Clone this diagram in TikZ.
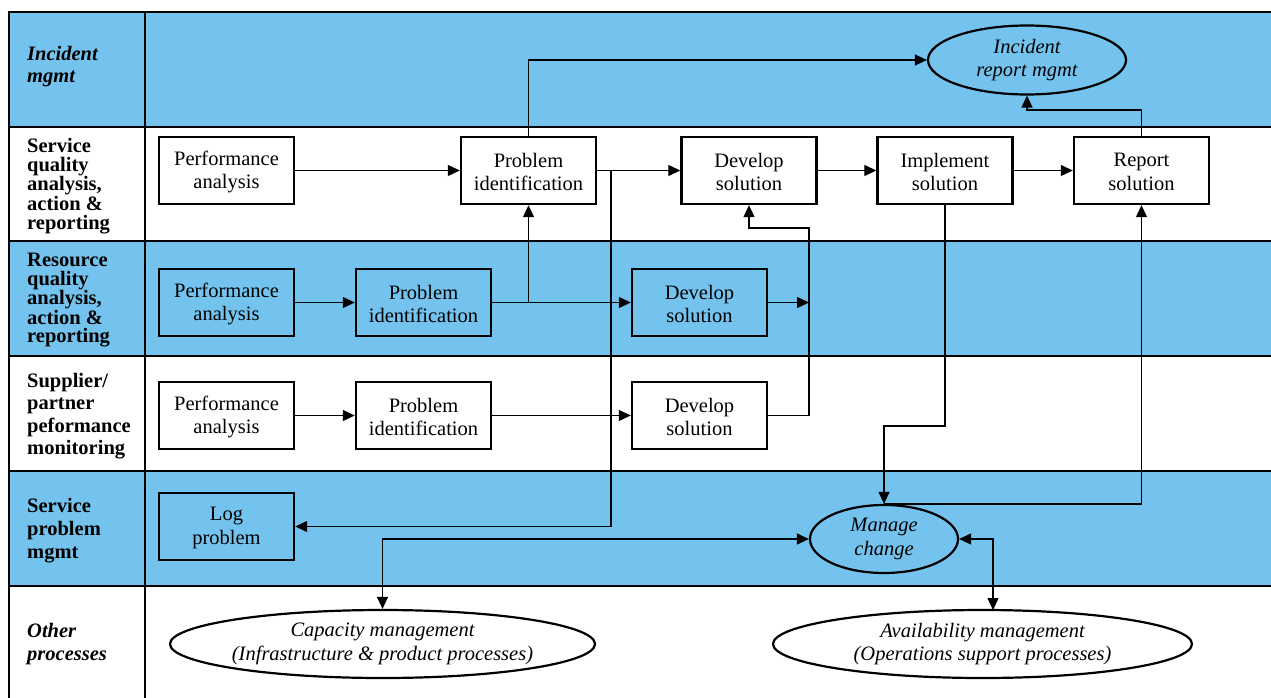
\documentclass[tikz,border=0pt]{standalone}
\usepackage{fontspec}
\setmainfont{Liberation Serif}
\usetikzlibrary{arrows.meta,shapes.geometric}
\definecolor{lane}{RGB}{116,195,238}
\begin{document}
\begin{tikzpicture}[x=1pt,y=-1pt,
  box/.style={draw,line width=2.4pt,minimum width=135pt,minimum height=67pt,
    inner sep=0pt,align=center,font=\fontsize{20.5}{23.5}\selectfont},
  boxtext/.style={align=center,inner sep=0pt,font=\fontsize{20.5}{23.5}\selectfont},
  oval/.style={draw,ellipse,line width=2.2pt,inner sep=0pt},
  ovaltext/.style={align=center,inner sep=0pt,font=\fontsize{20.5}{23.5}\selectfont\itshape},
  lanelabel/.style={anchor=west,align=left,inner sep=0pt},
  flow/.style={line width=1.2pt,-{Triangle[length=12pt,width=11pt]}},
  biflow/.style={line width=1.2pt,{Triangle[length=12pt,width=11pt]}-{Triangle[length=12pt,width=11pt]}}]
\useasboundingbox (0,0) rectangle (1271,698);

% swimlane backgrounds
\fill[lane] (9,12) rectangle (1271,127);
\fill[lane] (9,241) rectangle (1271,356);
\fill[lane] (9,471) rectangle (1271,586);

% lane grid
\draw[line width=1.8pt] (9,698) -- (9,12) -- (1271,12);
\foreach \yy in {127,241,356,471,586} \draw[line width=1.6pt] (9,\yy) -- (1271,\yy);
\draw[line width=1.2pt] (145,12) -- (145,698);

% lane labels
\node[lanelabel,font=\fontsize{20.5}{22}\selectfont\bfseries\itshape] (lab1) at (27,66.5) {Incident\\mgmt};
\node[lanelabel,font=\fontsize{20.5}{18.6}\selectfont\bfseries] (lab2) at (27,186) {Service\\quality\\analysis,\\action \&\\reporting};
\node[lanelabel,font=\fontsize{20.5}{18.4}\selectfont\bfseries] (lab3) at (27,300.5) {Resource\\quality\\analysis,\\action \&\\reporting};
\node[lanelabel,font=\fontsize{20.5}{22.5}\selectfont\bfseries] (lab4) at (27,416) {Supplier/\\partner\\peformance\\monitoring};
\node[lanelabel,font=\fontsize{20.5}{23}\selectfont\bfseries] (lab5) at (27,531) {Service\\problem\\mgmt};
\node[lanelabel,font=\fontsize{20.5}{23.5}\selectfont\bfseries\itshape] (lab6) at (27,644) {Other\\processes};

% service quality lane
\node[box,fill=white] (pa2) at (226.5,170.5) {};
\node[box,fill=white] (pi2) at (528.5,170.5) {};
\node[box,fill=white] (ds2) at (749,170.5) {};
\node[box,fill=white] (is2) at (945,170.5) {};
\node[box,fill=white] (rs2) at (1141.5,170.5) {};
\node[boxtext] (pa2t) at (226.5,172) {Performance\\analysis};
\node[boxtext] (pi2t) at (528.5,172) {Problem\\identification};
\node[boxtext] (ds2t) at (749,172) {Develop\\solution};
\node[boxtext] (is2t) at (945,172) {Implement\\solution};
\node[boxtext] (rs2t) at (1141.5,172) {Report\\solution};

% resource quality lane
\node[box,fill=lane] (pa3) at (226.5,302.5) {};
\node[box,fill=lane] (pi3) at (423.5,302.5) {};
\node[box,fill=lane] (ds3) at (699.5,302.5) {};
\node[boxtext] (pa3t) at (226.5,304) {Performance\\analysis};
\node[boxtext] (pi3t) at (423.5,304) {Problem\\identification};
\node[boxtext] (ds3t) at (699.5,304) {Develop\\solution};

% supplier / partner lane
\node[box,fill=white] (pa4) at (226.5,415.5) {};
\node[box,fill=white] (pi4) at (423.5,415.5) {};
\node[box,fill=white] (ds4) at (699.5,415.5) {};
\node[boxtext] (pa4t) at (226.5,417) {Performance\\analysis};
\node[boxtext] (pi4t) at (423.5,417) {Problem\\identification};
\node[boxtext] (ds4t) at (699.5,417) {Develop\\solution};

% service problem lane
\node[box,fill=lane] (lp) at (226.5,526.5) {};
\node[boxtext] (lpt) at (226.5,528) {Log\\problem};

% ovals
\node[oval,fill=lane,minimum width=198pt,minimum height=69pt] (irm) at (1027,60) {};
\node[ovaltext] (irmt) at (irm) {Incident\\report mgmt};
\node[oval,fill=lane,minimum width=148pt,minimum height=68pt] (mc) at (884,539) {};
\node[ovaltext] (mct) at (mc) {Manage\\change};
\node[oval,fill=white,minimum width=425pt,minimum height=68pt] (cap) at (382.5,644) {};
\node[ovaltext] (capt) at (cap) {Capacity management\\(Infrastructure \& product processes)};
\node[oval,fill=white,minimum width=419pt,minimum height=68pt] (av) at (982.5,644) {};
\node[ovaltext] (avt) at (av) {Availability management\\(Operations support processes)};

% junction points
\coordinate (split1) at (611,170.5);
\coordinate (rsup) at (1141.5,110);
\coordinate (merge) at (809,302.5);
\coordinate (mergetop) at (809,228);
\coordinate (isdrop) at (945,426);
\coordinate (avtop) at (993,610);

% service quality flow
\draw[flow] (pa2) -- (pi2);
\draw[flow] (pi2) -- (ds2);
\draw[flow] (ds2) -- (is2);
\draw[flow] (is2) -- (rs2);
\draw[flow] (pi2.north) |- (irm.west);
\draw[flow] (rs2.north) -- (rsup) -| (irm.south);
\draw[flow] (pi2.east) -- (split1) |- (lp.east);

% resource quality flow
\draw[flow] (pa3) -- (pi3);
\draw[flow] (pi3) -- (ds3);
\draw[flow] (pi3.east) -| (pi2.south);
\draw[flow] (ds3) -- (merge);

% supplier flow
\draw[flow] (pa4) -- (pi4);
\draw[flow] (pi4) -- (ds4);
\draw[flow] (ds4.east) -| (mergetop) -| (ds2.south);

% change management
\draw[flow] (is2.south) -- (isdrop) -| (mc.north);
\draw[flow] (mc.north) -| (rs2.south);
\draw[biflow] (cap.north) |- (mc.west);
\draw[biflow] (mc.east) -| (avtop);
\end{tikzpicture}
\end{document}
